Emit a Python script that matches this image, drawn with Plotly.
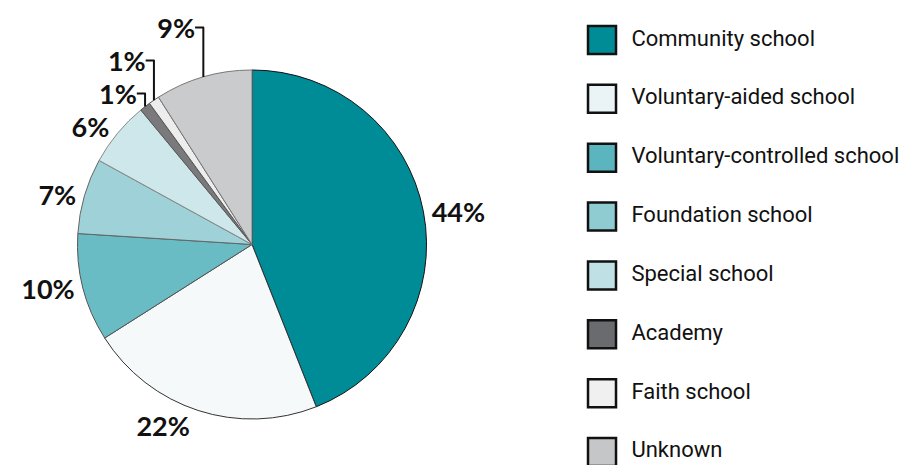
import plotly.graph_objects as go

categories = ["Community school", "Voluntary-aided school", "Voluntary-controlled school",
              "Foundation school", "Special school", "Academy", "Faith school", "Unknown"]
values = [44, 22, 10, 7, 6, 1, 1, 9]
colors = ["#008C96", "#F5F9FA", "#6ABCC4", "#9ED2D8", "#CDE7EA", "#7A7A7C", "#EDEDED", "#CACBCD"]
legend_colors = ["#008C96", "#EAF3F5", "#5BB5BE", "#8ECCD2", "#BFE1E5", "#6A6B6F", "#F0F0F0", "#C5C6C8"]
edge_colors = ["#111111", "#333333", "#555555", "#666666", "#888888", "#555555", "#555555", "#777777"]
pct_labels = [f"{v}%" for v in values]

fig = go.Figure()
fig.add_trace(go.Pie(
    labels=categories, values=values, text=pct_labels,
    textinfo="text", textposition="outside",
    textfont=dict(family="Lato", size=27, color="#111111", weight="bold"),
    marker=dict(colors=colors, line=dict(color=edge_colors, width=1)),
    sort=False, direction="clockwise", rotation=0,
    showlegend=False, hoverinfo="label+percent",
    domain=dict(x=[0.076, 0.4615], y=[0.1161, 0.8667]),
))

idx = list(range(len(categories)))
fig.add_trace(go.Scatter(
    x=[0] * len(categories), y=idx, mode="markers+text",
    marker=dict(symbol="square", size=28, color=legend_colors, line=dict(color="#111111", width=2.5)),
    text=["  " + c for c in categories], textposition="middle right",
    textfont=dict(family="Roboto", size=22, color="#111111"),
    xaxis="x", yaxis="y", showlegend=False, hoverinfo="skip", cliponaxis=False,
))

fig.update_layout(
    width=908, height=465, margin=dict(l=0, r=0, t=0, b=0, autoexpand=False),
    paper_bgcolor="white", plot_bgcolor="white",
    xaxis=dict(domain=[0.6, 1.0], range=[-1, 6.38], visible=False, fixedrange=True),
    yaxis=dict(domain=[0, 1], range=[7.357, -0.544], visible=False, fixedrange=True),
)
fig.write_html("out.html")
